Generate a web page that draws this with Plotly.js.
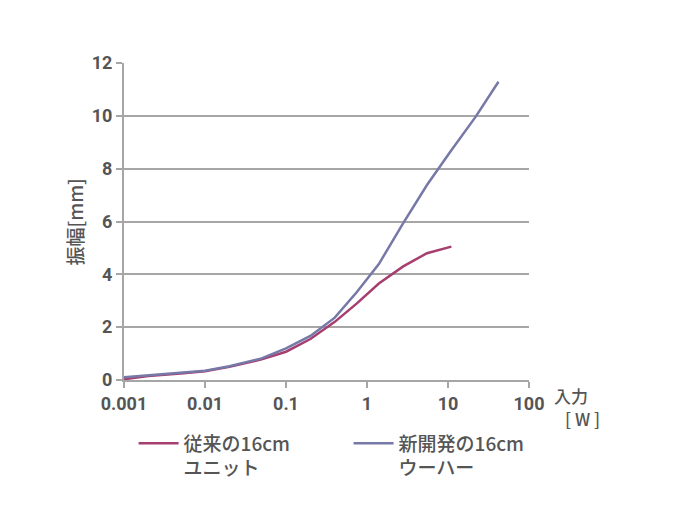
<!DOCTYPE html>
<html>
<head>
<meta charset="utf-8">
<script src="https://cdn.plot.ly/plotly-3.0.1.min.js"></script>
<style>
  body { margin: 0; background: #fff; }
  #graphique { width: 674px; height: 520px; }
</style>
</head>
<body>
<div id="graphique"></div>
<script>
// valeurs (entrée en W, amplitude en mm)
var puissance = [0.001, 0.002, 0.005, 0.01, 0.02, 0.05, 0.1, 0.2, 0.4, 0.75, 1.4, 2.8, 5.5, 11, 22, 42];
var ancienne = [0.03, 0.15, 0.25, 0.33, 0.5, 0.78, 1.07, 1.55, 2.2, 2.9, 3.65, 4.3, 4.8, 5.05];
var nouvelle = [0.1, 0.17, 0.26, 0.35, 0.52, 0.82, 1.2, 1.67, 2.36, 3.33, 4.39, 5.94, 7.38, 8.7, 9.97, 11.29];
var ticksX = [0.001, 0.01, 0.1, 1, 10, 100];
var labelsX = ['0.001', '0.01', '0.1', '1', '10', '100'];
var ticksY = [0, 2, 4, 6, 8, 10, 12];

var gris = '#a6a6a6';
var texte = '#555555';
var policeChiffres = { family: 'Roboto', size: 18, color: texte, weight: 'bold' };
var policeJp = { family: 'Noto Sans CJK JP', size: 17, color: texte, weight: 500 };
var policeLegende = { family: 'Noto Sans CJK JP', size: 19, color: texte, weight: 500 };

var traceAncienne = {
    x: puissance.slice(0, ancienne.length),
    y: ancienne,
    mode: 'lines',
    name: '従来の16cm<br>ユニット',
    line: { color: '#a63f6f', width: 2.5 }
};

var traceNouvelle = {
    x: puissance,
    y: nouvelle,
    mode: 'lines',
    name: '新開発の16cm<br>ウーハー',
    line: { color: '#7679a8', width: 2.5 }
};

var layout = {
    width: 674,
    height: 520,
    showlegend: true,
    xaxis: {
        type: 'log',
        range: [-3, 2],
        tickvals: ticksX,
        ticktext: labelsX,
        showgrid: false,
        zeroline: false,
        showline: true,
        linecolor: gris,
        linewidth: 2,
        ticks: 'outside',
        ticklen: 6,
        tickwidth: 2,
        tickcolor: gris,
        tickfont: policeChiffres
    },
    yaxis: {
        range: [0, 12],
        tickvals: ticksY,
        showgrid: true,
        gridcolor: gris,
        gridwidth: 2,
        zeroline: false,
        showline: true,
        linecolor: gris,
        linewidth: 2,
        ticks: 'outside',
        ticklen: 6,
        tickwidth: 2,
        tickcolor: gris,
        tickfont: policeChiffres
    },
    legend: {
        orientation: 'h',
        x: -0.001, y: -0.14,
        xanchor: 'left', yanchor: 'top',
        valign: 'top',
        indentation: 10,
        itemwidth: 40,
        entrywidth: 150,
        entrywidthmode: 'pixels',
        font: policeLegende,
        bgcolor: 'rgba(0,0,0,0)'
    },
    annotations: [
        // titre de l'axe y placé à la main
        { text: '振幅[mm]', xref: 'paper', yref: 'paper', x: -0.121, y: 0.5, textangle: -90, xanchor: 'center', yanchor: 'middle', showarrow: false, font: policeLegende },
        { text: '入力', xref: 'paper', yref: 'paper', x: 1.057, y: -0.048, xanchor: 'left', yanchor: 'middle', showarrow: false, font: policeJp },
        { text: '[ W ]', xref: 'paper', yref: 'paper', x: 1.083, y: -0.12, xanchor: 'left', yanchor: 'middle', showarrow: false, font: policeJp }
    ],
    plot_bgcolor: '#ffffff',
    paper_bgcolor: '#ffffff',
    margin: { t: 63, b: 140, l: 124, r: 145, autoexpand: false }
};

Plotly.newPlot('graphique', [traceAncienne, traceNouvelle], layout, { displayModeBar: false, staticPlot: true });
</script>
</body>
</html>
